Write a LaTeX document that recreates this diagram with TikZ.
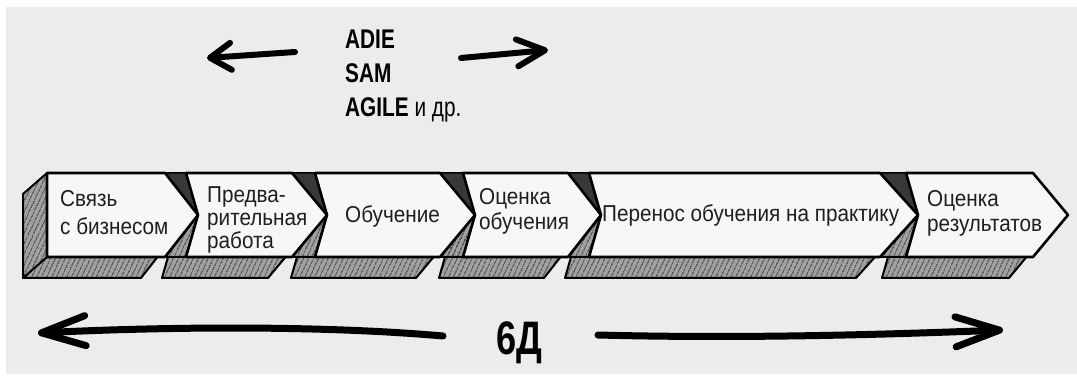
\documentclass[tikz,border=0pt]{standalone}
\usepackage{fontspec}
\setmainfont{Liberation Sans}
\newfontfamily\boxfont[FakeStretch=0.9]{Liberation Sans}
\newfontfamily\topfont[FakeStretch=0.77]{Liberation Sans}
\usetikzlibrary{arrows.meta,patterns.meta}
\definecolor{bg}{HTML}{ECECEE}
\definecolor{face}{HTML}{F7F7F7}
\definecolor{bandgray}{HTML}{A0A0A0}
\definecolor{hatchc}{HTML}{3A3A3A}
\tikzset{
  band/.style={draw=black, line width=2pt, line join=round,
    preaction={fill=bandgray},
    pattern={Lines[angle=65,distance=4pt,line width=1.1pt]}, pattern color=hatchc},
  gapdark/.style={fill=black!78, draw=black, line width=1.5pt, line join=round},
  front/.style={fill=face, draw=black, line width=2.6pt, line join=round},
  boxtext/.style={font=\boxfont\fontsize{23}{28}\selectfont, align=left,
    inner sep=0pt, anchor=base west, text=black!88},
  toptext/.style={font=\topfont\fontsize{27}{34}\selectfont, align=left,
    inner sep=0pt, anchor=base west, text=black},
  handarrow/.style={draw=black, line cap=round, line join=round}
}
\begin{document}
\begin{tikzpicture}[x=1pt,y=-1pt]
\useasboundingbox (0,0) rectangle (1077,379);
\fill[white] (0,0) rectangle (1077,379);
\fill[bg] (6,7) rectangle (1077,374);

% bottom bands (extrusion)
\foreach \L/\R/\T/\q in {47/165/198/0, 186/292/327/12, 315/440/475/12,
                        463/568/601/12, 589/880/918/12, 906/1033/1068/12}{
  \draw[band, shift={(-24,21)}] (\L,173) -- (\R,173) -- (\T,215) -- (\R,257)
     -- (\L,257) -- (\L+\q,215) -- cycle;
}
% left side of first box
\draw[band] (47,173) -- (47,257) -- (23,278) -- (23,194) -- cycle;

% gaps between boxes
\foreach \R/\Ln/\T in {165/186/198, 292/315/327, 440/463/475, 568/589/601, 880/906/918}{
  \draw[gapdark] (\R,173) -- (\Ln,173) -- (\T,215) -- cycle;
  \draw[band] (\R,257) -- (\Ln,257) -- (\T,215) -- cycle;
}

% front faces
\foreach \L/\R/\T/\q in {47/165/198/0, 186/292/327/12, 315/440/475/12,
                        463/568/601/12, 589/880/918/12, 906/1033/1068/12}{
  \draw[front] (\L,173) -- (\R,173) -- (\T,215) -- (\R,257)
     -- (\L,257) -- (\L+\q,215) -- cycle;
}

% texts in boxes (base anchor = last line)
\node[boxtext] (t1) at (60,235) {Связь\\с бизнесом};
\node[boxtext, font=\boxfont\fontsize{23}{23}\selectfont] (t2) at (207,249) {Предва-\\рительная\\работа};
\node[boxtext] (t3) at (345,223) {Обучение};
\node[boxtext, font=\boxfont\fontsize{23}{25}\selectfont] (t4) at (479,230) {Оценка\\обучения};
\node[boxtext] (t5) at (602,222) {Перенос обучения на практику};
\node[boxtext, font=\boxfont\fontsize{23}{25}\selectfont] (t6) at (927,232) {Оценка\\результатов};

% top text and arrows
\node[toptext] (methods) at (345,117) {\bfseries ADIE\\\bfseries SAM\\\bfseries AGILE {\mdseries и др.}};
\coordinate (tlTail) at (295,52);
\coordinate (tlTip) at (207,58);
\coordinate (trTail) at (461,58);
\coordinate (trTip) at (548,50);
\draw[handarrow, line width=6pt, -{Straight Barb[length=21pt,width=27pt,round]}] (tlTail) -- (tlTip);
\draw[handarrow, line width=6pt, -{Straight Barb[length=28pt,width=27pt,round]}] (trTail) -- (trTip);

% bottom text and arrows
\node[font=\topfont\bfseries\fontsize{47}{47}\selectfont, inner sep=0pt, anchor=base west] (sixd) at (496,355) {6Д};
\coordinate (blTail) at (443,336);
\coordinate (blTip) at (38,333);
\coordinate (brTail) at (598,335);
\coordinate (brTip) at (1003,330);
\draw[handarrow, line width=7pt, -{Straight Barb[length=44pt,width=30pt,round]}]
  (blTail) .. controls (330,326) and (180,326) .. (blTip);
\draw[handarrow, line width=7pt, -{Straight Barb[length=44pt,width=30pt,round]}]
  (brTail) .. controls (750,339) and (900,334) .. (brTip);
\end{tikzpicture}
\end{document}
